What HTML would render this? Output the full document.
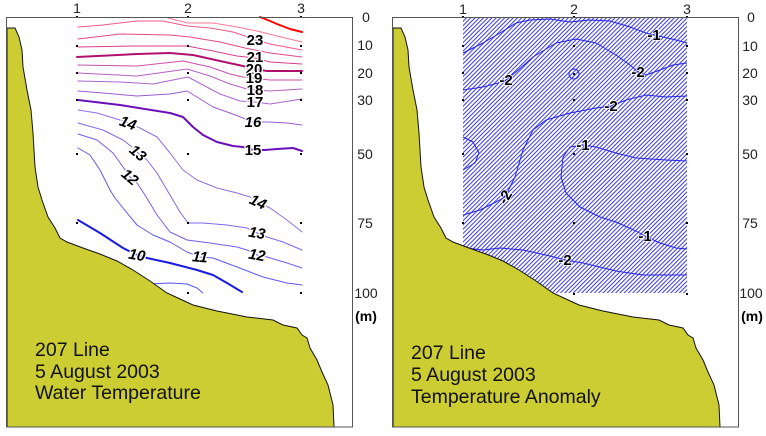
<!DOCTYPE html>
<html><head><meta charset="utf-8"><style>
html,body{margin:0;padding:0;background:#fff;}
svg{display:block;}
text{font-family:"Liberation Sans",Arial,sans-serif;}
.ax{font-size:14px;fill:#222;}
.lb{font-size:15px;font-weight:bold;fill:#000;stroke:#fff;stroke-width:2.5px;paint-order:stroke;}
.lbi{font-size:15px;font-weight:bold;font-style:italic;fill:#000;stroke:#fff;stroke-width:2.5px;paint-order:stroke;}
.rl{font-size:15px;font-weight:bold;fill:#000;stroke:#fff;stroke-width:1.5px;paint-order:stroke;}
.tt{font-size:19.5px;fill:#111;}
</style></head><body>
<svg width="766" height="436" viewBox="0 0 766 436" xmlns="http://www.w3.org/2000/svg">
<defs>
<pattern id="hatch" patternUnits="userSpaceOnUse" width="3" height="3" patternTransform="rotate(45)">
<line x1="0.5" y1="0" x2="0.5" y2="3" stroke="#3c3cee" stroke-width="1.05"/>
</pattern>
<clipPath id="hclip"><rect x="463" y="17" width="224" height="276"/></clipPath>
</defs>
<rect width="766" height="436" fill="#fff"/>

<!-- ===== LEFT PANEL ===== -->
<g fill="none" stroke-linejoin="round" stroke-linecap="round">
<polyline stroke="#ff0000" stroke-width="2" points="260,17 270,21 277,24 290,29 302,32"/>
<polyline stroke="#ff7a95" stroke-width="1" points="168,18 188,23 200,23 213,23 237,27 257,31 277,36 302,42"/>
<polyline stroke="#f05a85" stroke-width="1" points="78,27 103,25 137,21 163,21 187,26 210,28 233,32 245,36 255,40 270,44 302,50"/>
<polyline stroke="#e24a88" stroke-width="1" points="78,39 120,34 170,35 190,37 220,42 245,48 270,53 302,57"/>
<polyline stroke="#d8408c" stroke-width="1" points="78,47 137,46 187,46 213,51 237,56 255,58 270,62 302,64"/>
<polyline stroke="#b0106e" stroke-width="2" points="77,57 137,54 170,53 193,55 220,61 243,66 253,69 267,71 302,71"/>
<polyline stroke="#c850aa" stroke-width="1" points="78,65 137,66 183,61 210,67 230,74 243,77 253,78 270,80 302,80"/>
<polyline stroke="#b860c0" stroke-width="1" points="78,73 137,76 187,69 210,76 230,84 247,89 255,90 270,91 302,89"/>
<polyline stroke="#a868cc" stroke-width="1" points="78,81 120,82 153,84 188,77 203,85 220,94 240,101 255,102 270,104 302,99"/>
<polyline stroke="#9a5cd2" stroke-width="1" points="78,91 103,93 137,96 170,94 187,91 197,97 213,107 230,113 243,118 253,122 268,122 287,123 302,125"/>
<polyline stroke="#6a10b8" stroke-width="2" points="78,100 120,105 170,113 183,117 193,127 203,135 217,142 233,146 243,147 253,150 265,150 277,149 293,148 302,151"/>
<polyline stroke="#9070dd" stroke-width="1" points="78,110 97,113 120,120 128,123 140,128 157,137 170,153 183,170 197,180 217,188 237,193 250,197 258,202 270,208 287,220 302,232"/>
<polyline stroke="#8068e8" stroke-width="1" points="78,123 103,130 123,140 132,147 138,153 147,160 157,173 167,190 170,195 180,212 188,223 203,223 227,225 247,228 257,233 267,237 283,242 302,250"/>
<polyline stroke="#7060f0" stroke-width="1" points="78,134 97,140 113,153 123,167 130,177 137,183 145,195 157,215 170,232 187,240 210,243 237,247 247,250 257,255 267,257 287,263 302,268"/>
<polyline stroke="#6058f0" stroke-width="1" points="78,148 90,155 100,170 110,190 115,198 123,208 137,225 153,235 170,242 187,252 200,257 213,258 237,267 263,277 287,283 302,285"/>
<polyline stroke="#1a1ae0" stroke-width="2" points="78,220 100,233 123,248 137,255 147,258 170,263 197,270 213,275 227,283 242,292"/>
<polyline stroke="#5555f0" stroke-width="1" points="147,284 170,283 187,284 197,288 203,293"/>
</g>

<!-- left labels -->
<g text-anchor="middle">
<text class="lb" x="255" y="45">23</text>
<text class="lb" x="255" y="62">21</text>
<text class="lb" x="254" y="74">20</text>
<text class="lb" x="254" y="83">19</text>
<text class="lb" x="255" y="95">18</text>
<text class="lb" x="255" y="107">17</text>
<text class="lbi" x="253" y="127">16</text>
<text class="lb" x="253" y="155">15</text>
<text class="lbi" x="128" y="128" transform="rotate(20 128 123)">14</text>
<text class="lbi" x="138" y="158" transform="rotate(40 138 153)">13</text>
<text class="lbi" x="130" y="182" transform="rotate(40 130 177)">12</text>
<text class="lbi" x="258" y="207" transform="rotate(25 258 202)">14</text>
<text class="lbi" x="257" y="238" transform="rotate(10 257 233)">13</text>
<text class="lbi" x="257" y="260" transform="rotate(10 257 255)">12</text>
<text class="lbi" x="200" y="262" transform="rotate(5 200 257)">11</text>
<text class="lbi" x="137" y="260" transform="rotate(10 137 255)">10</text>
</g>

<!-- left station dots -->
<g fill="#000">
<rect x="76" y="16" width="2" height="2"/><rect x="76" y="45" width="2" height="2"/><rect x="76" y="72" width="2" height="2"/><rect x="76" y="99" width="2" height="2"/><rect x="76" y="153" width="2" height="2"/><rect x="76" y="222" width="2" height="2"/>
<rect x="187" y="16" width="2" height="2"/><rect x="187" y="45" width="2" height="2"/><rect x="187" y="72" width="2" height="2"/><rect x="187" y="99" width="2" height="2"/><rect x="187" y="153" width="2" height="2"/><rect x="187" y="222" width="2" height="2"/><rect x="187" y="292" width="2" height="2"/>
<rect x="300" y="16" width="2" height="2"/><rect x="300" y="45" width="2" height="2"/><rect x="300" y="72" width="2" height="2"/><rect x="300" y="99" width="2" height="2"/><rect x="300" y="153" width="2" height="2"/><rect x="300" y="222" width="2" height="2"/><rect x="300" y="292" width="2" height="2"/>
</g>

<!-- left land -->
<path id="land" d="M7,28 L15,28 L19,37 L22,50 L23,67 L27,90 L31,110 L33,133 L35,167 L38,187 L42,200 L48,217 L55,228 L60,238 L67,242 L83,248 L100,254 L117,261 L133,270 L150,281 L167,293 L180,299 L193,305 L217,311 L247,317 L273,320 L283,325 L297,328 L302,335 L307,338 L310,348 L317,360 L322,372 L328,385 L333,405 L334,427 L7,427 Z" fill="#cccc33" stroke="#111" stroke-width="1"/>

<!-- left frame -->
<rect x="6.5" y="17.5" width="346" height="409.5" fill="none" stroke="#555" stroke-width="1"/>

<!-- left axis labels -->
<g class="ax" text-anchor="middle">
<text x="77" y="13">1</text><text x="188" y="13">2</text><text x="301" y="13">3</text>
<text x="366" y="22">0</text>
<text x="365" y="50">10</text>
<text x="365" y="78">20</text>
<text x="365" y="105">30</text>
<text x="365" y="159">50</text>
<text x="365" y="228">75</text>
<text x="366" y="298">100</text>
<text x="366" y="321" font-weight="bold" fill="#000">(m)</text>
</g>

<g class="tt">
<text x="35" y="356">207 Line</text>
<text x="35" y="378">5 August 2003</text>
<text x="35" y="399">Water Temperature</text>
</g>

<!-- ===== RIGHT PANEL ===== -->
<rect x="463" y="17" width="224" height="276" fill="url(#hatch)" clip-path="url(#hclip)"/>

<g fill="none" stroke="#2424e6" stroke-width="1" stroke-linejoin="round">
<polyline points="463,53 483,43 500,33 516,23 530,20 550,19 570,22 590,20 610,21 630,27 646,33 654,35 663,37 676,40 687,43"/>
<polyline points="463,90 483,87 498,83 506,80 516,72 533,57 556,43 576,39 596,43 616,55 630,65 638,72 646,75 660,70 673,65 687,63"/>
<polyline points="463,215 480,210 496,202 505,197 515,177 523,150 533,130 546,120 570,113 596,108 611,106 626,100 646,95 666,97 687,96"/>
<polyline points="463,137 473,142 479,153 475,163 463,170"/>
<polyline points="687,161 666,160 636,158 616,153 596,147 583,145 570,147 563,157 561,177 566,193 580,207 600,217 616,222 636,231 645,236 660,243 676,248 687,249"/>
<polyline points="466,248 483,250 500,248 523,250 550,256 565,260 583,263 616,271 643,275 666,275 687,275"/>
<circle cx="574" cy="74" r="5"/>
</g>
<rect x="573" y="73" width="2" height="2" fill="#000"/>

<g text-anchor="middle">
<text class="rl" x="654" y="40">-1</text>
<text class="rl" x="506" y="85">-2</text>
<text class="rl" x="638" y="77">-2</text>
<text class="rl" x="611" y="111">-2</text>
<text class="rl" x="583" y="150">-1</text>
<text class="rl" x="505" y="202" transform="rotate(-60 505 197)">-2</text>
<text class="rl" x="645" y="241">-1</text>
<text class="rl" x="565" y="265">-2</text>
</g>

<!-- right station dots -->
<g fill="#000">
<rect x="462" y="16" width="2" height="2"/><rect x="462" y="45" width="2" height="2"/><rect x="462" y="72" width="2" height="2"/><rect x="462" y="99" width="2" height="2"/><rect x="462" y="153" width="2" height="2"/><rect x="462" y="222" width="2" height="2"/>
<rect x="573" y="16" width="2" height="2"/><rect x="573" y="45" width="2" height="2"/><rect x="573" y="99" width="2" height="2"/><rect x="573" y="153" width="2" height="2"/><rect x="573" y="222" width="2" height="2"/><rect x="573" y="293" width="2" height="2"/>
<rect x="686" y="16" width="2" height="2"/><rect x="686" y="45" width="2" height="2"/><rect x="686" y="72" width="2" height="2"/><rect x="686" y="99" width="2" height="2"/><rect x="686" y="153" width="2" height="2"/><rect x="686" y="222" width="2" height="2"/><rect x="686" y="293" width="2" height="2"/>
</g>

<!-- right land -->
<use href="#land" transform="translate(386,0)"/>

<!-- right frame -->
<rect x="392.5" y="17.5" width="346" height="409.5" fill="none" stroke="#555" stroke-width="1"/>

<g class="ax" text-anchor="middle">
<text x="463" y="14">1</text><text x="574" y="14">2</text><text x="687" y="14">3</text>
<text x="751" y="22">0</text>
<text x="750" y="51">10</text>
<text x="750" y="78">20</text>
<text x="750" y="105">30</text>
<text x="750" y="159">50</text>
<text x="750" y="228">75</text>
<text x="751" y="298">100</text>
<text x="752" y="321" font-weight="bold" fill="#000">(m)</text>
</g>

<g class="tt">
<text x="411" y="359">207 Line</text>
<text x="411" y="381">5 August 2003</text>
<text x="411" y="403">Temperature Anomaly</text>
</g>
</svg>
</body></html>
